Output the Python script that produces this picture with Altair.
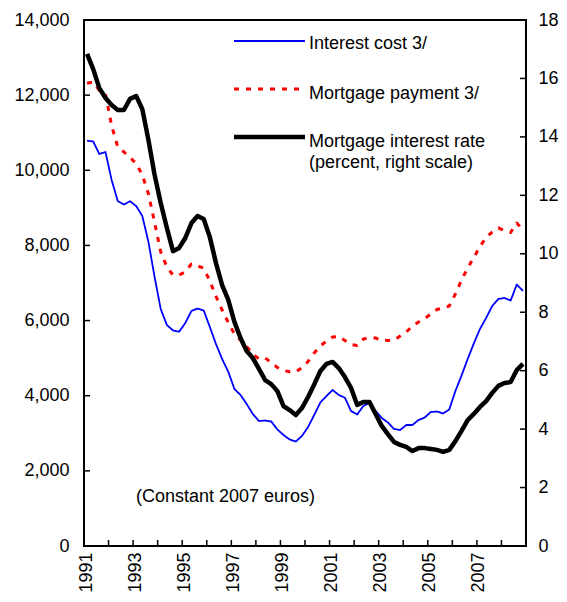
import altair as alt
import pandas as pd

FONT = "Liberation Sans"

# ---- data (quarterly, 1991Q1 .. 2008Q4) ----
year_ticks = list(range(1991, 2010))
left_ticks = list(range(0, 14001, 2000))
right_ticks = list(range(0, 19, 2))

interest_cost = [
    10787, 10766, 10433, 10487,   # 1991
    9741, 9183, 9089, 9175,       # 1992
    9049, 8783, 8091, 7160,       # 1993
    6308, 5882, 5736, 5704,       # 1994
    5935, 6255, 6321, 6268,       # 1995
    5829, 5376, 4977, 4639,       # 1996
    4179, 4019, 3779, 3513,       # 1997
    3327, 3340, 3314, 3101,       # 1998
    2954, 2835, 2781, 2928,       # 1999
    3167, 3487, 3819, 3992,       # 2000
    4152, 4019, 3947, 3593,       # 2001
    3500, 3726, 3806, 3593,       # 2002
    3407, 3287, 3114, 3087,       # 2003
    3221, 3221, 3354, 3420,       # 2004
    3567, 3580, 3527, 3633,       # 2005
    4125, 4538, 4977, 5390,       # 2006
    5776, 6068, 6388, 6574,       # 2007
    6601, 6534, 6960, 6787,       # 2008
]

mortgage_payment = [
    12315, 12350, 12124, 12030,
    11187, 10620, 10487, 10340,
    10181, 9875, 9369, 8610,
    7825, 7426, 7213, 7213,
    7293, 7506, 7452, 7399,
    7053, 6641, 6281, 5949,
    5643, 5483, 5307, 5110,
    4977, 5004, 4884, 4751,
    4671, 4639, 4639, 4746,
    4911, 5137, 5323, 5456,
    5563, 5576, 5470, 5363,
    5337, 5510, 5549, 5536,
    5475, 5472, 5478, 5589,
    5696, 5856, 5962, 6055,
    6175, 6295, 6335, 6388,
    6707, 7080, 7399, 7679,
    7971, 8211, 8357, 8464,
    8397, 8344, 8597, 8411,
]

mortgage_rate = [
    16.84, 16.32, 15.67, 15.33,
    15.09, 14.92, 14.92, 15.30,
    15.40, 14.95, 13.89, 12.70,
    11.74, 10.88, 10.09, 10.20,
    10.54, 11.05, 11.29, 11.19,
    10.57, 9.68, 8.93, 8.42,
    7.67, 7.12, 6.67, 6.43,
    6.06, 5.68, 5.54, 5.30,
    4.79, 4.65, 4.48, 4.72,
    5.10, 5.53, 5.99, 6.23,
    6.30, 6.09, 5.78, 5.41,
    4.83, 4.93, 4.93, 4.52,
    4.11, 3.83, 3.56, 3.46,
    3.39, 3.25, 3.35, 3.35,
    3.32, 3.29, 3.22, 3.29,
    3.59, 3.94, 4.31, 4.52,
    4.76, 4.96, 5.24, 5.48,
    5.58, 5.61, 6.02, 6.23,
]

series_names = ["Interest cost 3/", "Mortgage payment 3/"]
rate_label = ["Mortgage interest rate", "(percent, right scale)"]
note_text = "(Constant 2007 euros)"
title_text = "Euribor."

n = len(interest_cost)
quarters = [1991 + (i + 0.5) / 4 for i in range(n)]

df_left = pd.DataFrame({
    "t": quarters * 2,
    "value": interest_cost + mortgage_payment,
    "series": [series_names[0]] * n + [series_names[1]] * n,
})
df_rate = pd.DataFrame({"t": quarters, "rate": mortgage_rate})
one = pd.DataFrame({"k": [0]})

W, H = 442, 526

# ---- encodings ----
x_axis = alt.Axis(
    values=year_ticks,
    labelExpr="datum.value % 2 == 1 && datum.value < 2009 ? toString(datum.value) : ''",
    labelAngle=270, labelAlign="right", labelBaseline="middle",
    labelPadding=6, labelOffset=2, labelFont=FONT, labelFontSize=18,
    labelColor="black", labelFlush=False, labelOverlap=False,
    ticks=False, domain=False, grid=False, title=None,
)
x_enc = alt.X("t:Q", scale=alt.Scale(domain=[1991, 2009], nice=False, zero=False), axis=x_axis)

left_axis = alt.Axis(
    orient="left", values=left_ticks, labelExpr="format(datum.value, ',')",
    labelFont=FONT, labelFontSize=18, labelFlush=False, labelOverlap=False,
    labelColor="black", labelPadding=15, ticks=False, domain=False, grid=False, title=None,
)
y_left = alt.Y("value:Q", scale=alt.Scale(domain=[0, 14000], nice=False), axis=left_axis)

right_axis = alt.Axis(
    orient="right", values=right_ticks, labelFont=FONT, labelFontSize=18,
    labelFlush=False, labelOverlap=False,
    labelColor="black", labelPadding=12, ticks=False, domain=False, grid=False, title=None,
)
y_right = alt.Y("rate:Q", scale=alt.Scale(domain=[0, 18], nice=False), axis=right_axis)

# ---- left-scale layer ----
left_lines = alt.Chart(df_left).mark_line(strokeJoin="round").encode(
    x=x_enc,
    y=y_left,
    color=alt.Color("series:N", scale=alt.Scale(domain=series_names, range=["#0000ff", "#ff0000"]), legend=None),
    strokeDash=alt.StrokeDash("series:N", scale=alt.Scale(domain=series_names, range=[[1, 0], [5, 7]]), legend=None),
    strokeWidth=alt.StrokeWidth("series:N", scale=alt.Scale(domain=series_names, range=[1.8, 3]), legend=None),
    detail="series:N",
)
left_tick_marks = alt.Chart(pd.DataFrame({"value": left_ticks})).mark_rule(color="black", strokeWidth=1.5).encode(
    y=y_left, x=alt.value(0), x2=alt.value(6)
)
left_layer = alt.layer(left_lines, left_tick_marks)

# ---- right-scale layer ----
rate_line = alt.Chart(df_rate).mark_line(color="black", strokeWidth=4.5, strokeJoin="round").encode(
    x=x_enc, y=y_right
)
right_tick_marks = alt.Chart(pd.DataFrame({"rate": right_ticks})).mark_rule(color="black", strokeWidth=1.5).encode(
    y=y_right, x=alt.value(W - 6), x2=alt.value(W)
)
right_layer = alt.layer(rate_line, right_tick_marks)

# ---- x ticks ----
x_tick_marks = alt.Chart(pd.DataFrame({"t": year_ticks})).mark_rule(color="black", strokeWidth=1.5).encode(
    x=x_enc, y=alt.value(H - 6), y2=alt.value(H)
)

# ---- legend & annotations ----
txt = dict(align="left", baseline="middle", font=FONT, fontSize=18, color="black")
leg_blue = alt.Chart(one).mark_rule(color="#0000ff", strokeWidth=1.8).encode(
    x=alt.value(150), x2=alt.value(221), y=alt.value(21))
leg_red = alt.Chart(one).mark_rule(color="#ff0000", strokeWidth=3, strokeDash=[5, 7]).encode(
    x=alt.value(150), x2=alt.value(221), y=alt.value(69))
leg_black = alt.Chart(one).mark_rule(color="black", strokeWidth=4.5).encode(
    x=alt.value(150), x2=alt.value(221), y=alt.value(117))
t1 = alt.Chart(one).mark_text(**txt).encode(x=alt.value(225), y=alt.value(24), text=alt.value(series_names[0]))
t2 = alt.Chart(one).mark_text(**txt).encode(x=alt.value(225), y=alt.value(74), text=alt.value(series_names[1]))
t3 = alt.Chart(one).mark_text(**txt).encode(x=alt.value(225), y=alt.value(122), text=alt.value(rate_label[0]))
t4 = alt.Chart(one).mark_text(**txt).encode(x=alt.value(225), y=alt.value(143), text=alt.value(rate_label[1]))
note = alt.Chart(one).mark_text(**txt).encode(x=alt.value(52), y=alt.value(477), text=alt.value(note_text))
title = alt.Chart(one).mark_text(align="center", baseline="alphabetic", font=FONT, fontSize=18, color="black").encode(
    x=alt.value(216), y=alt.value(-16), text=alt.value(title_text))

chart = alt.layer(
    left_layer, right_layer, x_tick_marks,
    leg_blue, leg_red, leg_black, t1, t2, t3, t4, note, title,
).resolve_scale(y="independent").properties(
    width=W, height=H,
    autosize=alt.AutoSizeParams(type="none"),
    padding={"left": 76, "top": 12, "right": 33, "bottom": 48},
).configure_view(stroke="black", strokeWidth=2)

chart.save("out.html", embed_options={"renderer": "svg", "actions": False})
